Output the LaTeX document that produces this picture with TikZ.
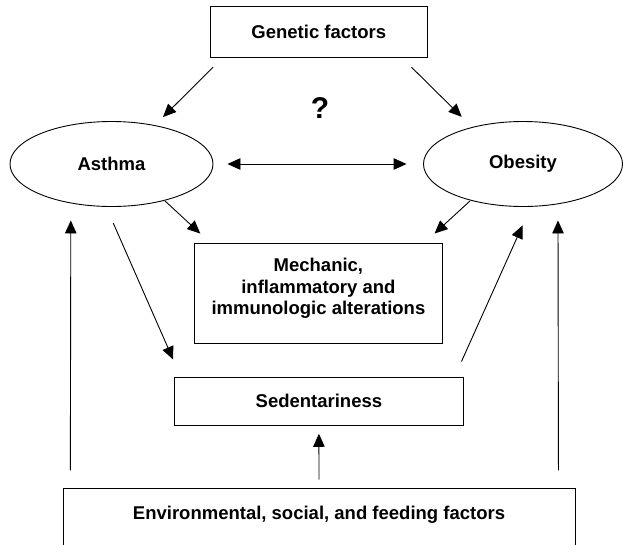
\documentclass[tikz,border=0pt]{standalone}
\usepackage{fontspec}
\setmainfont{Liberation Sans}
\usetikzlibrary{arrows.meta,shapes.geometric,calc}
\begin{document}
\begin{tikzpicture}[x=1pt,y=1pt,
  box/.style={draw, line width=0.9pt, rectangle, inner sep=0pt},
  oval/.style={draw, line width=0.9pt, ellipse, inner sep=0pt},
  lbl/.style={font=\fontsize{18.5}{21.7}\selectfont\bfseries, align=center, inner sep=0pt},
  arr/.style={line width=0.9pt, -{Triangle[length=13pt,width=11.5pt]}},
  darr/.style={line width=0.9pt, {Triangle[length=13pt,width=11.5pt]}-{Triangle[length=13pt,width=11.5pt]}}]
\useasboundingbox (0,0) rectangle (623,-544);
% nodes
\node[box, lbl, minimum width=216.4pt, minimum height=51pt] (gen) at (318.8,-32.2) {Genetic factors};
\node[oval, lbl, minimum width=203pt, minimum height=85pt] (asthma) at (111.5,-164) {Asthma};
\node[oval, lbl, minimum width=199pt, minimum height=85pt] (obesity) at (523,-164) {Obesity};
\node[font=\fontsize{30}{34}\selectfont\bfseries, inner sep=0pt] (q) at (320,-108) {?};
\node[box, minimum width=247.3pt, minimum height=100pt] (mech) at (318.4,-293) {};
\node[lbl] (mecht) at (318.4,-288.5) {Mechanic,\\inflammatory and\\immunologic alterations};
\node[box, lbl, minimum width=288.2pt, minimum height=48pt] (sed) at (318.9,-401) {Sedentariness};
\node[box, minimum width=512pt, minimum height=80pt] (env) at (319,-528.7) {};
\node[lbl] (envt) at (319,-515) {Environmental, social, and feeding factors};
% connectors
\draw[arr] ([shift={(3,-9)}]gen.south west) -- ([shift={(51.5,4)}]asthma.north);
\draw[arr] ([shift={(-16,-9)}]gen.south east) -- ([shift={(-61.3,4.2)}]obesity.north);
\draw[darr] ([xshift=14pt]asthma.east) -- ([xshift=-16.5pt]obesity.west);
\draw[arr] ([shift={(53.5,6)}]asthma.south) -- ([shift={(6,9)}]mech.north west);
\draw[arr] ([shift={(-53,6)}]obesity.south) -- ([shift={(-8,9)}]mech.north east);
\draw[arr] ([shift={(1.7,-16)}]asthma.south) -- ([shift={(-1.2,17)}]sed.north west);
\draw[arr] ([shift={(-2,15)}]sed.north east) -- ([shift={(-0.5,-18.5)}]obesity.south);
\draw[arr] ([yshift=8.7pt]env.north) -- ([yshift=-8.3pt]sed.south);
\draw[arr] ([shift={(7.8,18)}]env.north west) -- ([shift={(-40.7,-13.5)}]asthma.south);
\draw[arr] ([shift={(-17,18)}]env.north east) -- ([shift={(35,-13.5)}]obesity.south);
\end{tikzpicture}
\end{document}
